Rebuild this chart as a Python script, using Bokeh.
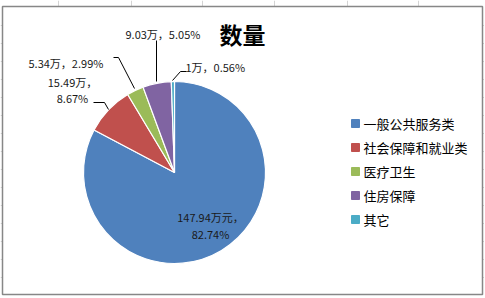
import math
from bokeh.plotting import figure
from bokeh.models import Range1d, ColumnDataSource
from bokeh.core.properties import value
from bokeh.embed import file_html
from bokeh.resources import INLINE

# ---- data ----
categories = ["一般公共服务类", "社会保障和就业类", "医疗卫生", "住房保障", "其它"]
amounts = [147.94, 15.49, 5.34, 9.03, 1.0]          # 万元
percents = [82.74, 8.67, 2.99, 5.05, 0.56]
labels = [["147.94万元，", "82.74%"], ["15.49万，", "8.67%"], ["5.34万，2.99%"], ["9.03万，5.05%"], ["1万，0.56%"]]
colors = ["#4F81BD", "#C0504D", "#9BBB59", "#8064A2", "#4BACC6"]
title_text = "数量"

W, H = 484, 296
PAGE_H = 298
FONT = "Noto Sans CJK SC"


def Y(sy):
    return PAGE_H - sy


p = figure(width=W, height=H, output_backend="svg", toolbar_location=None,
           x_range=Range1d(0, W), y_range=Range1d(PAGE_H - H, PAGE_H),
           min_border=0, background_fill_color="white", border_fill_color="white")
p.axis.visible = False
p.grid.visible = False
p.outline_line_color = None

# spreadsheet cell lines outside the chart frame
for gx in [58, 131, 202, 274, 347, 418]:
    p.line(x=[gx, gx], y=[Y(0), Y(6)], line_color="#D4D4D4", line_width=1)
for gy in range(25, 294, 18):
    p.line(x=[0, 2], y=[Y(gy), Y(gy)], line_color="#D4D4D4", line_width=1)
    p.line(x=[482, W], y=[Y(gy), Y(gy)], line_color="#D4D4D4", line_width=1)

# chart frame
p.quad(left=2, right=482, top=Y(6), bottom=Y(294), fill_color="white",
       line_color="#878787", line_width=1.5)

# ---- pie ----
total = sum(amounts)
cx, cy, r = 174, Y(172), 91
starts, ends = [], []
c = 0.0
for a in amounts:
    c0 = c
    c += a / total
    starts.append(math.pi / 2 - 2 * math.pi * c)
    ends.append(math.pi / 2 - 2 * math.pi * c0)

src = ColumnDataSource(dict(start=starts, end=ends, color=colors, cat=categories))
p.wedge(x=cx, y=cy, radius=r, start_angle="start", end_angle="end",
        fill_color="color", line_color="white", line_width=1.2, source=src)

# ---- data labels ----
lab_pos = [(210, [216, 233], "center"), (72, [81, 97], "center"), (28, [62], "left"),
           (125, [33], "left"), (185, [66], "left")]
for lines, (lx, lys, al) in zip(labels, lab_pos):
    for txt, ly in zip(lines, lys):
        p.text(x=[lx], y=[Y(ly)], text=[txt], text_font=value(FONT), text_font_size="11px",
               text_color="#1a1a1a", text_align=al, text_baseline="middle")

# leader lines
leaders = [
    [(93, 102), (104, 102), (108, 109)],
    [(113, 57), (118, 57), (134, 88)],
    [(156, 40), (156, 81)],
    [(186, 71), (180, 71), (172, 80)],
]
for pts in leaders:
    p.line(x=[q[0] for q in pts], y=[Y(q[1]) for q in pts], line_color="#000000", line_width=1)

# ---- title ----
p.text(x=[242], y=[Y(33)], text=[title_text], text_font=value(FONT), text_font_size="23px",
       text_font_style="bold", text_color="#000000", text_align="center", text_baseline="middle")

# ---- legend ----
ly0, dy = 123, 24
lx_sq, lx_txt = 355, 363
for i, (cat, col) in enumerate(zip(categories, colors)):
    yy = Y(ly0 + i * dy)
    p.scatter(x=[lx_sq], y=[yy], marker="square", size=8, fill_color=col, line_color=col)
    p.text(x=[lx_txt], y=[yy], text=[cat], text_font=value(FONT), text_font_size="13px",
           text_color="#000000", text_align="left", text_baseline="middle")

open("out.html", "w").write(file_html(p, INLINE))
